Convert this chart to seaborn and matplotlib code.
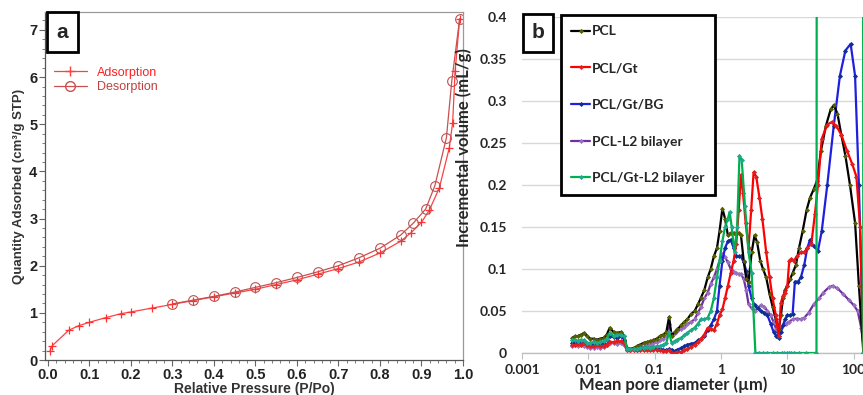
import numpy as np
import pandas as pd
import matplotlib
matplotlib.use("Agg")
import matplotlib.pyplot as plt
import seaborn as sns
from matplotlib.patches import Rectangle
from matplotlib.lines import Line2D

# ---------------- Panel a data ----------------
ads_p = [0.005, 0.01, 0.05, 0.075, 0.1, 0.14, 0.175, 0.2, 0.25, 0.3, 0.35, 0.4, 0.45, 0.5,
         0.55, 0.6, 0.65, 0.7, 0.75, 0.8, 0.85, 0.875, 0.9, 0.919, 0.943, 0.967, 0.975, 0.981, 0.992]
ads_q = [0.2, 0.3, 0.63, 0.73, 0.8, 0.9, 0.98, 1.02, 1.1, 1.18, 1.26, 1.34, 1.42, 1.5,
         1.6, 1.7, 1.82, 1.94, 2.08, 2.27, 2.52, 2.7, 2.92, 3.18, 3.65, 4.5, 5.03, 6.12, 7.24]
des_p = [0.3, 0.35, 0.4, 0.45, 0.5, 0.55, 0.6, 0.65, 0.7, 0.75, 0.8, 0.85, 0.88, 0.91,
         0.932, 0.96, 0.973, 0.992]
des_q = [1.19, 1.27, 1.35, 1.44, 1.54, 1.64, 1.75, 1.87, 2.0, 2.17, 2.37, 2.65, 2.9, 3.2,
         3.69, 4.71, 5.92, 7.24]

# ---------------- Panel b data ----------------
pcl_x = [0.0057, 0.0063, 0.007, 0.0078, 0.0087, 0.0096, 0.0107, 0.012, 0.0135, 0.015, 0.017, 0.019,
         0.021, 0.024, 0.027, 0.031, 0.035, 0.038, 0.043, 0.048, 0.054, 0.06, 0.068, 0.076, 0.085,
         0.095, 0.107, 0.12, 0.135, 0.15, 0.165, 0.18, 0.2, 0.22, 0.25, 0.28, 0.31, 0.35, 0.4, 0.45,
         0.5, 0.56, 0.63, 0.7, 0.78, 0.87, 0.95, 1.05, 1.15, 1.27, 1.4, 1.55, 1.7, 1.85, 2.0, 2.2,
         2.4, 2.6, 2.9, 3.2, 3.5, 3.9, 4.3, 4.8, 5.4, 6.0, 6.7, 7.4, 8.0, 8.6, 9.2, 10, 11, 12, 13.5,
         15, 17, 19.5, 22, 25, 28, 32, 38, 45, 50, 57, 65, 75, 88, 105, 120, 140]
pcl_y = [0.018, 0.02, 0.02, 0.022, 0.024, 0.02, 0.017, 0.017, 0.016, 0.017, 0.018, 0.022,
         0.03, 0.025, 0.024, 0.025, 0.02, 0.006, 0.005, 0.006, 0.008, 0.01, 0.012, 0.013, 0.014,
         0.015, 0.017, 0.02, 0.022, 0.025, 0.043, 0.02, 0.025, 0.028, 0.033, 0.037, 0.04, 0.046, 0.05, 0.058,
         0.066, 0.075, 0.09, 0.1, 0.115, 0.125, 0.145, 0.172, 0.16, 0.14, 0.143, 0.143, 0.142, 0.143, 0.14, 0.11,
         0.088, 0.085, 0.12, 0.14, 0.132, 0.11, 0.1, 0.09, 0.07, 0.055, 0.04, 0.028, 0.045, 0.065, 0.075, 0.08, 0.088, 0.095, 0.105,
         0.125, 0.145, 0.17, 0.185, 0.195, 0.205, 0.24, 0.27, 0.29, 0.295, 0.285, 0.26, 0.235, 0.2, 0.155, 0.08, 0.0]

gt_x = [0.0057, 0.0063, 0.007, 0.0078, 0.0087, 0.0096, 0.0107, 0.012, 0.0135, 0.015, 0.017, 0.019,
        0.021, 0.024, 0.027, 0.031, 0.035, 0.038, 0.043, 0.048, 0.054, 0.06, 0.068, 0.076, 0.085,
        0.095, 0.107, 0.12, 0.135, 0.15, 0.165, 0.18, 0.2, 0.22, 0.25, 0.28, 0.31, 0.35, 0.4, 0.45,
        0.5, 0.56, 0.63, 0.7, 0.78, 0.87, 0.95, 1.05, 1.15, 1.27, 1.4, 1.55, 1.7, 1.85, 2.0, 2.15,
        2.35, 2.6, 2.85, 3.1, 3.4, 3.8, 4.2, 4.8, 5.4, 6.0, 6.7, 7.4, 8.0, 8.6, 9.2, 10, 10.7, 11.5, 12.5,
        14, 16, 18, 20, 23, 26, 29, 33, 40, 47, 55, 65, 80, 95, 110, 125, 140]
gt_y = [0.01, 0.009, 0.011, 0.01, 0.012, 0.009, 0.008, 0.008, 0.009, 0.008, 0.008, 0.01,
        0.013, 0.013, 0.014, 0.014, 0.012, 0.004, 0.003, 0.004, 0.003, 0.004, 0.003, 0.004, 0.003,
        0.004, 0.004, 0.003, 0.002, 0.002, 0.003, 0.0, 0.0, 0.001, 0.001, 0.003, 0.005, 0.007, 0.01, 0.013,
        0.017, 0.022, 0.03, 0.028, 0.027, 0.035, 0.045, 0.052, 0.065, 0.08, 0.095, 0.11, 0.13, 0.17, 0.212, 0.19,
        0.155, 0.125, 0.17, 0.215, 0.21, 0.185, 0.16, 0.12, 0.09, 0.065, 0.045, 0.02, 0.06, 0.068, 0.072, 0.08, 0.11, 0.112, 0.11,
        0.115, 0.12, 0.12, 0.125, 0.13, 0.165, 0.2, 0.255, 0.272, 0.275, 0.27, 0.26, 0.24, 0.225, 0.21, 0.15, 0.0]

bg_x = [0.0057, 0.0063, 0.007, 0.0078, 0.0087, 0.0096, 0.0107, 0.012, 0.0135, 0.015, 0.017, 0.019,
        0.021, 0.024, 0.027, 0.031, 0.035, 0.038, 0.043, 0.048, 0.054, 0.06, 0.068, 0.076, 0.085,
        0.095, 0.107, 0.12, 0.135, 0.15, 0.165, 0.18, 0.2, 0.22, 0.25, 0.28, 0.31, 0.35, 0.4, 0.45,
        0.5, 0.56, 0.63, 0.7, 0.78, 0.87, 0.95, 1.05, 1.15, 1.27, 1.4, 1.55, 1.7, 1.85, 2.0, 2.2,
        2.4, 2.6, 2.9, 3.2, 3.6, 4.0, 4.5, 5.0, 5.6, 6.2, 6.8, 7.4, 8.0, 8.6, 9.2, 10, 11, 12, 13,
        14.5, 16, 18, 20, 22, 25, 29, 33, 40, 50, 62, 75, 90, 105, 120, 135, 145]
bg_y = [0.012, 0.013, 0.014, 0.012, 0.013, 0.01, 0.01, 0.011, 0.012, 0.011, 0.012, 0.015,
        0.02, 0.019, 0.018, 0.02, 0.016, 0.005, 0.004, 0.005, 0.004, 0.005, 0.005, 0.006, 0.005,
        0.007, 0.006, 0.005, 0.004, 0.003, 0.005, 0.004, 0.002, 0.004, 0.006, 0.008, 0.01, 0.011, 0.012, 0.015,
        0.017, 0.02, 0.027, 0.033, 0.04, 0.05, 0.08, 0.11, 0.125, 0.133, 0.135, 0.125, 0.116, 0.115, 0.115, 0.108,
        0.098, 0.08, 0.065, 0.057, 0.053, 0.05, 0.048, 0.045, 0.035, 0.025, 0.02, 0.018, 0.025, 0.033, 0.04, 0.045, 0.045, 0.046, 0.085,
        0.085, 0.09, 0.105, 0.125, 0.135, 0.127, 0.122, 0.145, 0.2, 0.27, 0.33, 0.36, 0.368, 0.33, 0.2, 0.05, 0.0]

l2_x = [0.0057, 0.0063, 0.007, 0.0078, 0.0087, 0.0096, 0.0107, 0.012, 0.0135, 0.015, 0.017, 0.019,
        0.021, 0.024, 0.027, 0.031, 0.035, 0.038, 0.043, 0.048, 0.054, 0.06, 0.068, 0.076, 0.085,
        0.095, 0.107, 0.12, 0.135, 0.15, 0.165, 0.18, 0.2, 0.22, 0.25, 0.28, 0.31, 0.35, 0.4, 0.45,
        0.5, 0.56, 0.63, 0.7, 0.78, 0.87, 0.95, 1.05, 1.15, 1.27, 1.4, 1.55, 1.7, 1.85, 2.0, 2.2,
        2.4, 2.6, 2.9, 3.2, 3.6, 4.0, 4.5, 5.0, 5.6, 6.2, 6.8, 7.4, 8.0, 8.6, 9.5, 10.5, 12, 14, 16,
        18, 21, 25, 30, 35, 42, 48, 57, 70, 85, 100, 115, 130, 145]
l2_y = [0.008, 0.009, 0.008, 0.009, 0.008, 0.007, 0.006, 0.006, 0.007, 0.006, 0.007, 0.009,
        0.012, 0.012, 0.011, 0.012, 0.01, 0.003, 0.003, 0.004, 0.005, 0.006, 0.007, 0.009, 0.01,
        0.012, 0.013, 0.015, 0.017, 0.02, 0.035, 0.022, 0.024, 0.026, 0.028, 0.031, 0.034, 0.037, 0.04, 0.048,
        0.055, 0.065, 0.072, 0.082, 0.09, 0.1, 0.11, 0.118, 0.114, 0.108, 0.1, 0.097, 0.095, 0.094, 0.094, 0.088,
        0.075, 0.058, 0.053, 0.05, 0.054, 0.057, 0.055, 0.05, 0.045, 0.037, 0.028, 0.02, 0.03, 0.033, 0.035, 0.037, 0.04, 0.041, 0.04,
        0.042, 0.048, 0.058, 0.065, 0.072, 0.078, 0.08, 0.077, 0.07, 0.063, 0.057, 0.05, 0.03, 0.0]

gtl2_x = [0.0057, 0.0063, 0.007, 0.0078, 0.0087, 0.0096, 0.0107, 0.012, 0.0135, 0.015, 0.017, 0.019,
          0.021, 0.024, 0.027, 0.031, 0.035, 0.038, 0.043, 0.048, 0.054, 0.06, 0.068, 0.076, 0.085,
          0.095, 0.107, 0.12, 0.135, 0.15, 0.165, 0.18, 0.2, 0.22, 0.25, 0.28, 0.31, 0.35, 0.4, 0.45,
          0.5, 0.56, 0.63, 0.7, 0.78, 0.87, 0.95, 1.05, 1.15, 1.27, 1.35, 1.45, 1.6, 1.75, 1.9, 2.05,
          2.3, 2.6, 2.9, 3.3, 3.7, 4.3, 5.0, 6.0, 7.0, 8.2, 9.0, 9.8, 10.6, 11.5, 12.5, 15, 19,
          27.5, 28, 60, 137, 140]
gtl2_y = [0.015, 0.016, 0.014, 0.016, 0.015, 0.012, 0.012, 0.013, 0.012, 0.013, 0.014, 0.017,
          0.024, 0.02, 0.022, 0.022, 0.02, 0.005, 0.005, 0.005, 0.005, 0.006, 0.006, 0.007, 0.006,
          0.007, 0.008, 0.008, 0.01, 0.012, 0.025, 0.012, 0.014, 0.016, 0.018, 0.021, 0.024, 0.027, 0.03, 0.035,
          0.04, 0.04, 0.042, 0.05, 0.065, 0.09, 0.11, 0.133, 0.15, 0.16, 0.168, 0.15, 0.12, 0.15, 0.235, 0.23,
          0.175, 0.12, 0.095, 0.0, 0.0, 0.0, 0.0, 0.0, 0.0, 0.0, 0.0, 0.0, 0.0, 0.0, 0.0, 0.0, 0.0,
          0.0, 1.0, 1.2, 1.0, 0.0]

series_names = ["PCL", "PCL/Gt", "PCL/Gt/BG", "PCL-L2 bilayer", "PCL/Gt-L2 bilayer"]
series_colors = ["#000000", "#ff0000", "#1f1fe0", "#7030a0", "#00b050"]
marker_colors = ["#556000", "#e02020", "#103090", "#9a70c0", "#20a890"]
x_ticks = [0.001, 0.01, 0.1, 1, 10, 100]
x_tick_labels = ["0.001", "0.01", "0.1", "1", "10", "100"]
y_ticks = [0, 0.05, 0.1, 0.15, 0.2, 0.25, 0.3, 0.35, 0.4]
y_tick_labels = ["0", "0.05", "0.1", "0.15", "0.2", "0.25", "0.3", "0.35", "0.4"]

sns.set_style("white")
plt.rcParams["font.family"] = ["Liberation Sans", "DejaVu Sans"]

W, H = 863, 395
fig = plt.figure(figsize=(W / 100, H / 100), dpi=100)

def fx(px):
    return px / W

def fy(py):
    return 1 - py / H

# ---------------- Panel a ----------------
axa = fig.add_axes([fx(45), fy(360), fx(463) - fx(45), fy(12) - fy(360)])
sns.lineplot(x=ads_p, y=ads_q, ax=axa, color="#ff4040", linewidth=0.9, marker="+",
             markersize=6, markeredgewidth=0.9, markeredgecolor="#ff3030",
             sort=False, estimator=None)
sns.lineplot(x=des_p, y=des_q, ax=axa, color="#c85050", linewidth=0.9, marker="o",
             markersize=7, markerfacecolor="none", markeredgecolor="#c05050",
             markeredgewidth=0.8, sort=False, estimator=None)
axa.set_xlim(-0.007, 1.0)
axa.set_ylim(0, 7.38)
axa.set_xticks(np.arange(0, 1.01, 0.1))
axa.set_xticklabels([f"{v:.1f}" for v in np.arange(0, 1.01, 0.1)])
axa.set_yticks(range(0, 8))
axa.set_xticks(np.arange(0, 1.001, 0.02), minor=True)
axa.set_yticks(np.arange(0, 7.3, 0.2), minor=True)
axa.tick_params(axis="both", which="major", direction="out", length=4, width=0.8,
                color="#666666", labelsize=10.5, labelcolor="#222222", pad=1.5,
                bottom=True, left=True)
axa.tick_params(axis="both", which="minor", direction="out", length=2, width=0.6,
                color="#666666", bottom=True, left=True)
for lab in axa.get_xticklabels() + axa.get_yticklabels():
    lab.set_fontweight("bold")
for side in ["top", "right"]:
    axa.spines[side].set_color("#999999")
    axa.spines[side].set_linewidth(0.9)
for side in ["left", "bottom"]:
    axa.spines[side].set_color("#555555")
    axa.spines[side].set_linewidth(0.9)
axa.set_xlabel("Relative Pressure (P/Po)", fontsize=10, fontweight="bold",
               color="#333333", labelpad=0)
axa.set_ylabel("Quantity Adsorbed (cm\u00b3/g STP)", fontsize=9.5, fontweight="bold",
               color="#333333", labelpad=3)
h1 = Line2D([], [], color="#ff4040", lw=0.9, marker="+", markersize=7)
h2 = Line2D([], [], color="#c85050", lw=0.9, marker="o", markersize=7,
            markerfacecolor="none")
lega = axa.legend([h1, h2], ["Adsorption", "Desorption"], loc="upper left",
                  bbox_to_anchor=(-0.005, 0.875), frameon=False, fontsize=9,
                  handlelength=2.6, handletextpad=0.8, labelspacing=0.2)
for t, c in zip(lega.get_texts(), ["#ff2020", "#c04040"]):
    t.set_color(c)

fig.add_artist(Rectangle((fx(47), fy(52)), fx(78) - fx(47), fy(12) - fy(52),
                         transform=fig.transFigure, fill=True, facecolor="white",
                         edgecolor="black", linewidth=2, zorder=10))
fig.text(fx(62.5), fy(33), "a", fontsize=15, fontweight="bold", ha="center",
         va="center", zorder=11)

# ---------------- Panel b ----------------
axb = fig.add_axes([fx(522), fy(353), 398 / W, fy(17) - fy(353)])
xs = [pcl_x, gt_x, bg_x, l2_x, gtl2_x]
ys = [pcl_y, gt_y, bg_y, l2_y, gtl2_y]
order = [3, 2, 0, 1, 4]
for i in order:
    sns.lineplot(x=xs[i], y=ys[i], ax=axb, color=series_colors[i], linewidth=1.6,
                 marker="D", markersize=2.6, markerfacecolor=marker_colors[i],
                 markeredgewidth=0, sort=False, estimator=None, zorder=3)
axb.set_xscale("log")
axb.set_xlim(0.001, 1000)
axb.set_ylim(0, 0.4)
axb.set_xticks(x_ticks)
axb.set_xticklabels(x_tick_labels)
axb.xaxis.set_minor_locator(matplotlib.ticker.NullLocator())
axb.set_yticks(y_ticks)
axb.set_yticklabels(y_tick_labels)
axb.grid(axis="y", color="#d9d9d9", linewidth=1)
axb.grid(axis="x", visible=False)
axb.set_axisbelow(True)
for side in ["top", "right", "left"]:
    axb.spines[side].set_visible(False)
axb.spines["bottom"].set_color("#bfbfbf")
axb.spines["bottom"].set_linewidth(1)
axb.tick_params(axis="x", which="major", direction="out", length=4, color="#bfbfbf",
                labelsize=10, pad=4, bottom=True)
axb.tick_params(axis="y", length=0, labelsize=10, pad=11)
for lab in axb.get_xticklabels() + axb.get_yticklabels():
    lab.set_fontfamily(["Lato", "DejaVu Sans"])
    lab.set_fontweight("bold")
axb.set_xlabel("Mean pore diameter (\u00b5m)", fontsize=12, fontweight="bold",
               family=["Lato", "DejaVu Sans"])
axb.xaxis.set_label_coords((673 - 522) / 398, (353 - 376) / 336)
axb.set_ylabel("Incremental volume (mL/g)", fontsize=12, fontweight="bold",
               family=["Lato", "DejaVu Sans"])
axb.yaxis.set_label_coords((472 - 522) / 398, (353 - 148) / 336)

handles = [Line2D([], [], color=series_colors[i], lw=1.6, marker="D", markersize=2.6,
                  markerfacecolor=marker_colors[i], markeredgewidth=0) for i in range(5)]
legb = axb.legend(handles, series_names, loc="upper left",
                  bbox_to_anchor=(fx(560.5), fy(15)), bbox_transform=fig.transFigure,
                  frameon=True, fancybox=False,
                  prop={"family": ["Lato", "DejaVu Sans"], "weight": "bold", "size": 10},
                  handlelength=1.4, handletextpad=0.1, labelspacing=1.78,
                  borderpad=0.75, borderaxespad=0)
legb.get_frame().set_edgecolor("black")
legb.get_frame().set_linewidth(2)
legb.get_frame().set_alpha(1)
legb.set_zorder(10)

fig.add_artist(Rectangle((fx(523), fy(52)), fx(553) - fx(523), fy(14) - fy(52),
                         transform=fig.transFigure, fill=True, facecolor="white",
                         edgecolor="black", linewidth=2, zorder=10))
fig.text(fx(538), fy(33), "b", fontsize=15, fontweight="bold", ha="center",
         va="center", zorder=11)

fig.savefig("out.png", dpi=100)
